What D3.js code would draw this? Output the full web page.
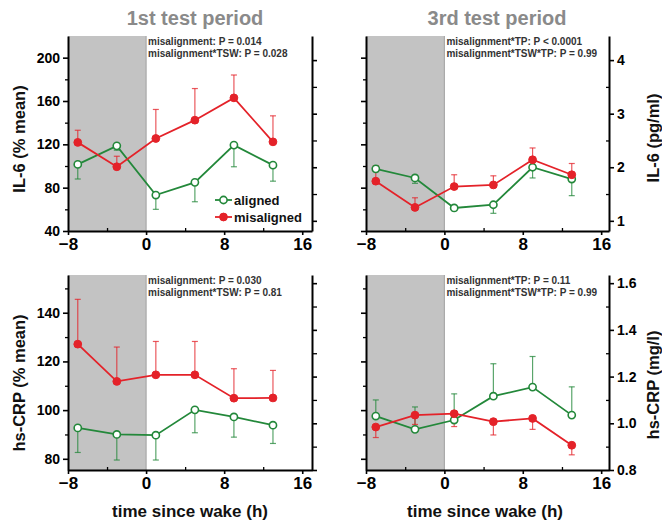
<!DOCTYPE html>
<html><head><meta charset="utf-8">
<script src="https://cdn.jsdelivr.net/npm/d3@7/dist/d3.min.js"></script>
<style>
body{margin:0;background:#fff}
text{font-family:"Liberation Sans",Arial,sans-serif;font-weight:bold}
</style>
</head><body>
<svg id="c" width="662" height="523"></svg>
<script>
// ---------- data ----------
const times = [-7, -3, 1, 5, 9, 13];
const xTickVals = [-8, 0, 8, 16];
const xMinorVals = [-4, 4, 12];
const seriesNames = ["aligned", "misaligned"];
const periodTitles = ["1st test period", "3rd test period"];

// IL-6 (% mean), 1st test period
const il6PctAligned    = [101.5, 118.6, 73.2, 84.9, 119.3, 100.8];
const il6PctAlignedErr = [13.5, 4, 13.2, 17.9, 20.0, 14.8];      // drawn downward
const il6PctMis        = [121.8, 99.3, 125.4, 142.3, 162.9, 122.3];
const il6PctMisErr     = [11.2, 9.7, 26.8, 29.2, 21.1, 24.0];    // drawn upward

// IL-6 (pg/ml), 3rd test period
const il6AbsAligned    = [1.97, 1.80, 1.24, 1.30, 2.00, 1.78];
const il6AbsAlignedErr = [0.05, 0.10, 0.05, 0.16, 0.20, 0.31];   // downward
const il6AbsMis        = [1.74, 1.25, 1.64, 1.67, 2.14, 1.86];
const il6AbsMisErr     = [0.29, 0.18, 0.22, 0.17, 0.22, 0.21];   // upward

// hs-CRP (% mean), 1st test period
const crpPctAligned    = [92.7, 90.0, 89.7, 100.1, 97.2, 93.8];
const crpPctAlignedErr = [10.1, 10.5, 10.2, 9.4, 8.3, 7.5];      // downward
const crpPctMis        = [127.1, 111.8, 114.5, 114.5, 104.9, 105.0];
const crpPctMisErr     = [18.4, 14.1, 13.7, 13.7, 12.1, 11.3];   // upward

// hs-CRP (mg/l), 3rd test period
const crpAbsAligned    = [1.031, 0.974, 1.014, 1.116, 1.155, 1.035];
const crpAbsAlignedErr = [0.069, 0.096, 0.112, 0.139, 0.131, 0.121]; // upward
const crpAbsMis        = [0.984, 1.035, 1.041, 1.007, 1.021, 0.906];
const crpAbsMisErr     = [0.045, 0.040, 0.055, 0.057, 0.047, 0.041]; // downward

// axis ticks
const il6PctTicks = [40, 80, 120, 160, 200];
const il6PctMinor = [60, 100, 140, 180];
const il6AbsTicks = [1, 2, 3, 4];
const il6AbsMinor = [1.5, 2.5, 3.5];
const crpPctTicks = [80, 100, 120, 140];
const crpPctMinor = [90, 110, 130, 150];
const crpAbsTicks = [0.8, 1.0, 1.2, 1.4, 1.6];
const crpAbsMinor = [0.9, 1.1, 1.3, 1.5];

const statLines = [
  ["misalignment: P = 0.014", "misalignment*TSW: P = 0.028"],
  ["misalignment*TP: P < 0.0001", "misalignment*TSW*TP: P = 0.99"],
  ["misalignment: P = 0.030", "misalignment*TSW: P = 0.81"],
  ["misalignment*TP: P = 0.11", "misalignment*TSW*TP: P = 0.99"]
];
const yTitlesLeft = ["IL-6 (% mean)", "hs-CRP (% mean)"];
const yTitlesRight = ["IL-6 (pg/ml)", "hs-CRP (mg/l)"];
const xTitle = "time since wake (h)";

// ---------- style ----------
const GREEN = "#23883a", RED = "#e42229";
const svg = d3.select("#c");

const panels = [
  { x0: 68, x1: 312, top: 36, bot: 231, xDom: [-8, 17], pctDom: [40, 220], absDom: [0.81, 4.45],
    pctTicks: il6PctTicks, pctMinor: il6PctMinor, absTicks: il6AbsTicks, absMinor: il6AbsMinor,
    useAbs: false, labelLeft: true, absFmt: d3.format("d"),
    a: il6PctAligned, aErr: il6PctAlignedErr, aDir: -1, m: il6PctMis, mErr: il6PctMisErr, mDir: 1,
    stats: statLines[0], legend: true },
  { x0: 366, x1: 609, top: 36, bot: 231, xDom: [-8, 16.8], pctDom: [40, 220], absDom: [0.81, 4.45],
    pctTicks: il6PctTicks, pctMinor: il6PctMinor, absTicks: il6AbsTicks, absMinor: il6AbsMinor,
    useAbs: true, labelLeft: false, absFmt: d3.format("d"),
    a: il6AbsAligned, aErr: il6AbsAlignedErr, aDir: -1, m: il6AbsMis, mErr: il6AbsMisErr, mDir: 1,
    stats: statLines[1], legend: false },
  { x0: 68, x1: 312, top: 275, bot: 470, xDom: [-8, 17], pctDom: [75.4, 155.5], absDom: [0.8, 1.635],
    pctTicks: crpPctTicks, pctMinor: crpPctMinor, absTicks: crpAbsTicks, absMinor: crpAbsMinor,
    useAbs: false, labelLeft: true, absFmt: d3.format(".1f"),
    a: crpPctAligned, aErr: crpPctAlignedErr, aDir: -1, m: crpPctMis, mErr: crpPctMisErr, mDir: 1,
    stats: statLines[2], legend: false },
  { x0: 366, x1: 609, top: 275, bot: 470, xDom: [-8, 16.8], pctDom: [75.4, 155.5], absDom: [0.8, 1.635],
    pctTicks: crpPctTicks, pctMinor: crpPctMinor, absTicks: crpAbsTicks, absMinor: crpAbsMinor,
    useAbs: true, labelLeft: false, absFmt: d3.format(".1f"),
    a: crpAbsAligned, aErr: crpAbsAlignedErr, aDir: 1, m: crpAbsMis, mErr: crpAbsMisErr, mDir: -1,
    stats: statLines[3], legend: false }
];

function styleAxis(g, fs) {
  g.select(".domain").attr("stroke", "#000").attr("stroke-width", 2);
  g.selectAll(".tick line").attr("stroke", "#000").attr("stroke-width", 1.6);
  g.selectAll(".tick text").attr("fill", "#000").style("font-size", fs + "px")
    .style("font-family", '"Liberation Sans",Arial,sans-serif').style("font-weight", "bold");
}

panels.forEach((p, i) => {
  const x = d3.scaleLinear().domain(p.xDom).range([p.x0, p.x1]);
  const yPct = d3.scaleLinear().domain(p.pctDom).range([p.bot, p.top]);
  const yAbs = d3.scaleLinear().domain(p.absDom).range([p.bot, p.top]);
  const y = p.useAbs ? yAbs : yPct;
  const g = svg.append("g");

  // shaded sleep period
  g.append("rect").attr("x", x(-8)).attr("y", p.top).attr("width", x(0) - x(-8))
    .attr("height", p.bot - p.top).attr("fill", "#c3c3c3");
  g.append("line").attr("x1", x(0)).attr("x2", x(0)).attr("y1", p.top).attr("y2", p.bot)
    .attr("stroke", "#a9a9a9").attr("stroke-width", 1.2);

  // left axis (% mean)
  const la = g.append("g").attr("transform", `translate(${p.x0},0)`)
    .call(d3.axisLeft(yPct).tickValues(p.pctTicks).tickSize(5).tickSizeOuter(0).tickPadding(3)
      .tickFormat(p.labelLeft ? d3.format("d") : () => ""));
  styleAxis(la, 14);
  g.append("g").attr("transform", `translate(${p.x0},0)`)
    .call(d3.axisLeft(yPct).tickValues(p.pctMinor).tickSize(3).tickFormat(() => ""))
    .call(a => { a.select(".domain").remove(); a.selectAll("line").attr("stroke", "#000").attr("stroke-width", 1.3); });

  // right axis (absolute)
  const ra = g.append("g").attr("transform", `translate(${p.x1},0)`)
    .call(d3.axisRight(yAbs).tickValues(p.absTicks).tickSize(5).tickSizeOuter(0).tickPadding(3)
      .tickFormat(p.labelLeft ? () => "" : p.absFmt));
  styleAxis(ra, 14);
  g.append("g").attr("transform", `translate(${p.x1},0)`)
    .call(d3.axisRight(yAbs).tickValues(p.absMinor).tickSize(p.labelLeft ? 5 : -3).tickFormat(() => ""))
    .call(a => { a.select(".domain").remove(); a.selectAll("line").attr("stroke", "#000").attr("stroke-width", 1.3); });

  // bottom axis
  const ba = g.append("g").attr("transform", `translate(0,${p.bot})`)
    .call(d3.axisBottom(x).tickValues(xTickVals).tickSize(4).tickSizeOuter(0).tickPadding(3).tickFormat(d3.format("d")));
  styleAxis(ba, 17);
  g.append("g").attr("transform", `translate(0,${p.bot})`)
    .call(d3.axisBottom(x).tickValues(xMinorVals).tickSize(-3).tickFormat(() => ""))
    .call(a => { a.select(".domain").remove(); a.selectAll("line").attr("stroke", "#000").attr("stroke-width", 1.3); });

  // error bars
  const drawErr = (vals, errs, dir, color) => {
    vals.forEach((v, k) => {
      const e = errs[k];
      const yEnd = y(v + dir * e);
      g.append("line").attr("x1", x(times[k])).attr("x2", x(times[k]))
        .attr("y1", y(v)).attr("y2", yEnd).attr("stroke", color).attr("stroke-width", 1.2).attr("opacity", 0.75);
      g.append("line").attr("x1", x(times[k]) - 3).attr("x2", x(times[k]) + 3)
        .attr("y1", yEnd).attr("y2", yEnd).attr("stroke", color).attr("stroke-width", 1.2).attr("opacity", 0.75);
    });
  };
  drawErr(p.a, p.aErr, p.aDir, GREEN);
  drawErr(p.m, p.mErr, p.mDir, RED);

  const line = d3.line().x((d, k) => x(times[k])).y(d => y(d));
  g.append("path").datum(p.a).attr("d", line).attr("fill", "none").attr("stroke", GREEN).attr("stroke-width", 1.8);
  g.append("path").datum(p.m).attr("d", line).attr("fill", "none").attr("stroke", RED).attr("stroke-width", 1.8);

  g.selectAll(null).data(p.a).enter().append("circle")
    .attr("cx", (d, k) => x(times[k])).attr("cy", d => y(d)).attr("r", 3.6)
    .attr("fill", "#fff").attr("stroke", GREEN).attr("stroke-width", 1.6);
  g.selectAll(null).data(p.m).enter().append("circle")
    .attr("cx", (d, k) => x(times[k])).attr("cy", d => y(d)).attr("r", 3.9)
    .attr("fill", RED).attr("stroke", RED).attr("stroke-width", 1);

  // stats text
  p.stats.forEach((s, k) => {
    g.append("text").attr("x", x(0) + 2).attr("y", p.top + 9 + k * 12)
      .attr("fill", "#333").style("font-size", "10px").text(s);
  });

  // legend
  if (p.legend) {
    [[GREEN, false, seriesNames[0], 200], [RED, true, seriesNames[1], 217]].forEach(([c, filled, name, ly]) => {
      g.append("line").attr("x1", 215).attr("x2", 232).attr("y1", ly).attr("y2", ly)
        .attr("stroke", c).attr("stroke-width", 1.8);
      g.append("circle").attr("cx", 223.5).attr("cy", ly).attr("r", filled ? 3.9 : 3.6)
        .attr("fill", filled ? c : "#fff").attr("stroke", c).attr("stroke-width", filled ? 1 : 1.6);
      g.append("text").attr("x", 234).attr("y", ly + 4.5).attr("fill", "#111")
        .style("font-size", "13px").text(name);
    });
  }
});

// titles
svg.append("text").attr("x", 195).attr("y", 25).attr("text-anchor", "middle")
  .attr("fill", "#8a8a8a").style("font-size", "20px").text(periodTitles[0]);
svg.append("text").attr("x", 497).attr("y", 25).attr("text-anchor", "middle")
  .attr("fill", "#8a8a8a").style("font-size", "20px").text(periodTitles[1]);

// y titles
[[19, 139, yTitlesLeft[0]], [19, 383, yTitlesLeft[1]]].forEach(([tx, ty, t]) => {
  svg.append("text").attr("transform", `translate(${tx + 6},${ty}) rotate(-90)`)
    .attr("text-anchor", "middle").attr("fill", "#111").style("font-size", "16.5px").text(t);
});
[[653, 138, yTitlesRight[0]], [653, 385, yTitlesRight[1]]].forEach(([tx, ty, t]) => {
  svg.append("text").attr("transform", `translate(${tx + 6},${ty}) rotate(-90)`)
    .attr("text-anchor", "middle").attr("fill", "#111").style("font-size", "16.5px").text(t);
});

// x titles
svg.append("text").attr("x", 190).attr("y", 517).attr("text-anchor", "middle")
  .attr("fill", "#111").style("font-size", "17px").text(xTitle);
svg.append("text").attr("x", 485).attr("y", 517).attr("text-anchor", "middle")
  .attr("fill", "#111").style("font-size", "17px").text(xTitle);
</script>
</body></html>
